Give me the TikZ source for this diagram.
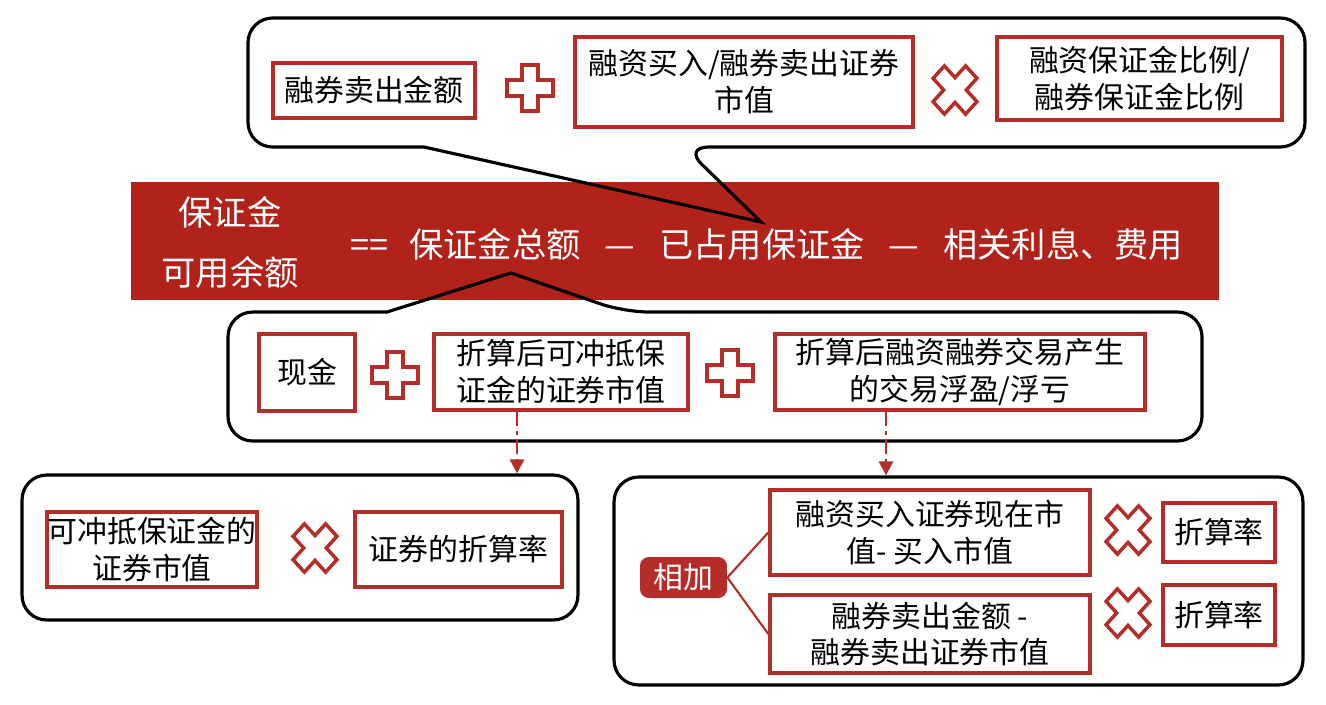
\documentclass[tikz,border=0pt]{standalone}
\usepackage{fontspec}
\setmainfont{Noto Sans CJK SC}
\usetikzlibrary{arrows.meta}
\definecolor{boxred}{RGB}{181,45,40}
\definecolor{bannerred}{RGB}{176,34,26}

\begin{document}
\begin{tikzpicture}[x=0.02cm, y=-0.02cm,
  bubble/.style={draw=black, line width=1.8pt, rounded corners=14pt},
  redbox/.style={draw=boxred, line width=2pt, fill=white, align=center, inner sep=0pt,
    font=\fontsize{17}{21}\selectfont},
  signline/.style={draw=boxred, line width=2pt, fill=white},
  dasharrow/.style={draw=boxred, line width=1.6pt, dash pattern=on 8pt off 3pt on 2pt off 3pt,
    -{Triangle[length=8pt,width=8pt]}},
  bannertext/.style={text=white, inner sep=0pt, font=\fontsize{19.5}{24}\selectfont},
  pics/plussign/.style={code={
    \draw[signline] (-8,-23) -- (8,-23) -- (8,-8) -- (23,-8) -- (23,8) -- (8,8) -- (8,23)
      -- (-8,23) -- (-8,8) -- (-23,8) -- (-23,-8) -- (-8,-8) -- cycle;}},
  pics/timessign/.style={code={
    \draw[signline, yscale=1.1, rotate=45] (-8,-23) -- (8,-23) -- (8,-8) -- (23,-8) -- (23,8)
      -- (8,8) -- (8,23) -- (-8,23) -- (-8,8) -- (-23,8) -- (-23,-8) -- (-8,-8) -- cycle;}}]
  \useasboundingbox (0,0) rectangle (1326,704);

  % banner
  \node[fill=bannerred, minimum width=21.76cm, minimum height=2.36cm, inner sep=0pt] (banner) at (675,241) {};
  \node[bannertext] (lblA) at (230,212) {保证金};
  \node[bannertext] (lblB) at (230,272) {可用余额};
  \node[bannertext] (formula) at (767,244)
    {==\hspace{0.6em}保证金总额\hspace{0.7em}—\hspace{0.7em}已占用保证金\hspace{0.7em}—\hspace{0.7em}相关利息、费用};

  % top callout
  \draw[bubble] (424,147) -- (248,147) -- (248,18) -- (1305,18) -- (1305,147) -- (684,147)
    [sharp corners] -- (761,222) -- cycle;
  \node[redbox, minimum width=4.04cm, minimum height=1.1cm] (sellamt) at (374,90.5) {融券卖出金额};
  \node[redbox, minimum width=6.76cm, minimum height=1.8cm] (marketval) at (744,82) {融资买入/融券卖出证券\\市值};
  \node[redbox, minimum width=5.7cm, minimum height=1.66cm] (ratio) at (1139.5,78.5) {融资保证金比例/\\融券保证金比例};
  \pic at (530,88) {plussign};
  \pic at (955,90) {timessign};

  % middle callout
  \draw[bubble] (387,312) -- (228,312) -- (228,441) -- (1202,441) -- (1202,312) -- (624,312)
    [sharp corners] -- (511,273) -- cycle;
  \node[redbox, minimum width=1.92cm, minimum height=1.54cm] (cash) at (307,372.5) {现金};
  \node[redbox, minimum width=5.08cm, minimum height=1.52cm] (collat) at (561,372) {折算后可冲抵保\\证金的证券市值};
  \node[redbox, minimum width=7.4cm, minimum height=1.52cm] (pnl) at (960,372) {折算后融资融券交易产生\\的交易浮盈/浮亏};
  \pic at (395,375) {plussign};
  \pic at (730,373) {plussign};

  % lower left
  \node[bubble, minimum width=11.12cm, minimum height=2.9cm] (haircutbubble) at (300,547.5) {};
  \node[redbox, minimum width=4.2cm, minimum height=1.5cm] (collatval) at (152,549.5) {可冲抵保证金的\\证券市值};
  \node[redbox, minimum width=4.14cm, minimum height=1.5cm] (haircut) at (458.5,549.5) {证券的折算率};
  \pic at (315,548) {timessign};

  % lower right
  \node[bubble, minimum width=13.78cm, minimum height=4.16cm] (pnlbubble) at (958.5,581) {};
  \node[fill=boxred, text=white, rounded corners=5pt, minimum width=1.74cm, minimum height=0.82cm,
    inner sep=0pt, font=\fontsize{17}{21}\selectfont] (addnode) at (683.5,577.5) {相加};
  \node[redbox, minimum width=6.4cm, minimum height=1.7cm] (gainbuy) at (930,532.5) {融资买入证券现在市\\值-\ 买入市值};
  \node[redbox, minimum width=6.4cm, minimum height=1.56cm] (gainsell) at (930,634) {融券卖出金额\ -\\融券卖出证券市值};
  \node[redbox, minimum width=2.24cm, minimum height=1.18cm] (rate1) at (1219,532.5) {折算率};
  \node[redbox, minimum width=2.24cm, minimum height=1.2cm] (rate2) at (1219,615) {折算率};
  \pic at (1128,530) {timessign};
  \pic at (1128,613) {timessign};
  \draw[boxred, line width=1.2pt] (gainbuy.west) -- (addnode.east) -- (gainsell.west);

  % dashed links
  \draw[dasharrow] ([xshift=-0.88cm]collat.south) -- ([xshift=-0.88cm]collat.south |- haircutbubble.north);
  \draw[dasharrow] ([xshift=-1.48cm]pnl.south) -- ([xshift=-1.48cm]pnl.south |- pnlbubble.north);
\end{tikzpicture}
\end{document}
